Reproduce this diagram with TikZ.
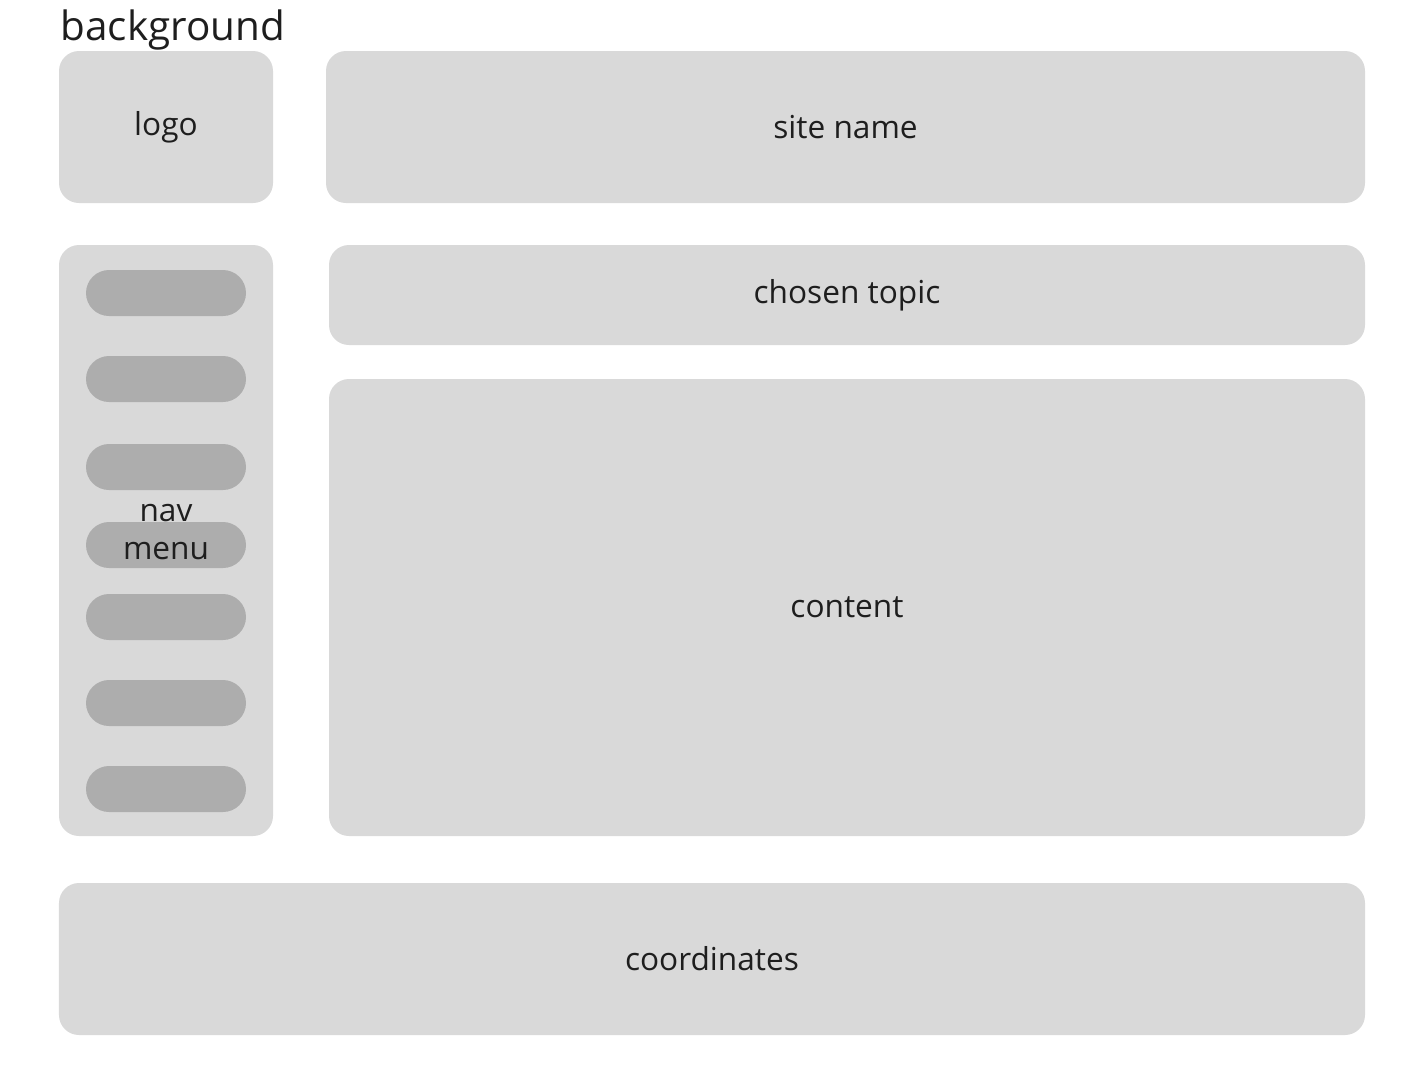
\documentclass[tikz,border=0pt]{standalone}
\usepackage{fontspec}
\setmainfont{Open Sans}
\usepackage{xcolor}
\usetikzlibrary{positioning}

\definecolor{panelgray}{HTML}{D9D9D9}
\definecolor{pillgray}{HTML}{ADADAD}
\definecolor{labelink}{HTML}{1E1E1E}

\tikzset{
    panel/.style={fill=panelgray, rounded corners=0.2cm, inner sep=0pt, text=labelink, font=\fontsize{9}{11}\selectfont},
    pill/.style={fill=pillgray, rounded corners=0.23cm, inner sep=0pt, minimum width=1.6cm, minimum height=0.46cm}
}

\begin{document}
\begin{tikzpicture}[]
    \useasboundingbox (0,0) rectangle (14.14,-10.90);

    \node (title) [anchor=base west, text=labelink, inner sep=0pt, font=\fontsize{11.5}{13}\selectfont] at (0.60,-0.40) {background};

    \node (logo) [panel, minimum width=2.14cm, minimum height=1.52cm] at (1.66,-1.27) {logo};
    \node (site_name) [panel, minimum width=10.39cm, minimum height=1.52cm] at (8.455,-1.27) {site name};

    \node (nav_menu) [panel, minimum width=2.14cm, minimum height=5.91cm] at (1.66,-5.405) {};

    \foreach \i/\y in {1/2.93, 2/3.79, 3/4.67, 4/5.45, 5/6.17, 6/7.03, 7/7.89}
        \node (pill\i) [pill] at (1.66,-\y) {};

    \node (nav_label) [text=labelink, align=center, inner sep=0pt, font=\fontsize{9}{11}\selectfont] at (1.66,-5.32) {nav\\menu};

    \node (chosen_topic) [panel, minimum width=10.36cm, minimum height=1.00cm] at (8.47,-2.95) {chosen topic};
    \node (content) [panel, minimum width=10.36cm, minimum height=4.57cm] at (8.47,-6.075) {content};

    \node (coordinates) [panel, minimum width=13.06cm, minimum height=1.52cm] at (7.12,-9.59) {coordinates};

    \end{tikzpicture}
\end{document}
